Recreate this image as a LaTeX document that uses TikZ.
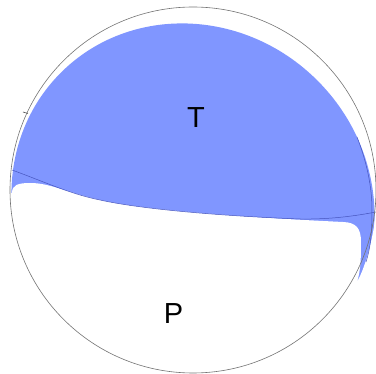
\documentclass[tikz,border=0pt]{standalone}
\usepackage{fontspec}
\setmainfont{Liberation Sans}
\usepackage{xcolor}
\usepackage{tikz}
\definecolor{beachblue}{RGB}{128,150,255}
\definecolor{planeblue}{RGB}{70,85,190}

\begin{document}
\begin{tikzpicture}[x=1pt, y=-1pt,
  rim/.style={draw=black!55, line width=0.6pt},
  planeline/.style={draw=planeblue, line width=0.5pt},
  axislabel/.style={font=\fontsize{29}{29}\selectfont, inner sep=0pt, anchor=base}]
  \useasboundingbox (0,0) rectangle (376,374);
  % compressional part (blue): slightly tilted ellipse
  \fill[beachblue, rotate around={-45:(193,205)}] (193,205) ellipse [x radius=187, y radius=176];
  % white dilatational lobe cut out of it at the bottom
  \fill[white] (-2,193) -- (12,193) .. controls (12,185) and (18,183) .. (30,183)
    .. controls (50,183) and (65,192) .. (100,200)
    .. controls (140,209) and (220,216) .. (343,222)
    .. controls (356,222.5) and (361,228) .. (361,242)
    .. controls (361,255) and (361,270) .. (357,282)
    .. controls (365,268) and (373,240) .. (376,212)
    -- (380,212) -- (380,380) -- (-2,380) -- cycle;
  % nodal planes
  \draw[planeline] (12,170) .. controls (45,182) and (70,194) .. (100,200)
    .. controls (140,209) and (220,216) .. (300,219)
    .. controls (330,219.5) and (355,216) .. (376,212);
  \draw[planeline] (357,137) .. controls (366,160) and (372,185) .. (372,210)
    .. controls (372,235) and (370,250) .. (366,262);
  % outer rim
  \draw[rim] (193,190) circle (183);
  \draw[black!70, line width=0.6pt] (23,112) -- (28,113.5);
  % axes
  \node[axislabel] (tAxis) at (196,128) {T};
  \node[axislabel] (pAxis) at (173.5,324) {P};
\end{tikzpicture}
\end{document}
